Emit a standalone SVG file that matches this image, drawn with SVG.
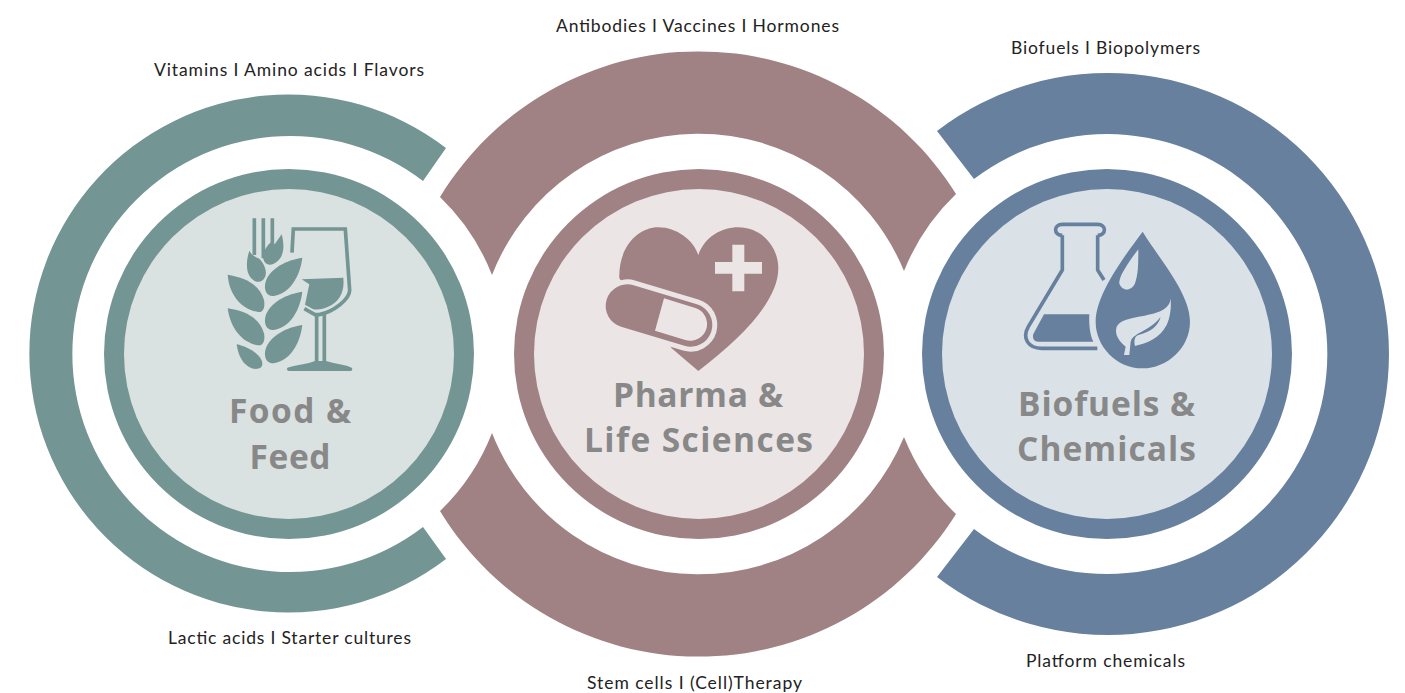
<svg xmlns="http://www.w3.org/2000/svg" width="1405" height="693" viewBox="0 0 1405 693">
<style>
.lbl{font-family:"Lato","Liberation Sans",sans-serif;font-size:17.5px;fill:#222}
.ttl{font-family:"Open Sans","Noto Sans",sans-serif;font-weight:700;font-size:33.500px;fill:#888;text-anchor:middle}
.t{fill:#739593}.tl{fill:#d9e2e1}
.m{fill:#a08184}.ml{fill:#ebe5e6}
.b{fill:#66809e}.bl{fill:#dae2e8}
</style>
<rect width="1405" height="693" fill="#fff"/>
<g id="food-feed">
<path class="t" d="M446,148A259,259 0 1 0 446,559L423,527A218,218 0 1 1 423,181Z"/>
<circle class="t" cx="289" cy="354" r="185"/>
<circle class="tl" cx="289" cy="354" r="165"/>
<g transform="translate(200 200) scale(.3333)">
<g fill="none" stroke="#739593" stroke-width="11">
<path d="M163,55V165M190,55V175M217,55V140"/>
<path d="M276,158L280,87H436L449,270C450,298 400,335 358,344L345,344L313,326"/>
<path d="M350,344V490M373,340V490"/>
</g>
<path class="t" d="M305,238L430,233C434,270 422,298 395,315C375,327 355,330 340,328L315,314L328,253Z"/>
<path class="t" d="M262,503C290,495 330,490 345,483L378,483C400,490 440,495 455,503C459,508 456,513 450,513H268C262,513 259,508 262,503Z"/>
<path class="t" d="M83,224C130,232 178,250 192,300C196,320 190,338 175,336C130,330 88,290 83,224Z"/>
<path class="t" d="M83,325C130,332 178,350 192,400C196,420 190,438 175,436C130,430 92,390 83,325Z"/>
<path class="t" d="M110,433C145,440 185,465 187,490C188,505 172,510 155,505C130,495 115,470 110,433Z"/>
<path class="t" d="M307,173C300,230 270,278 225,287C200,292 190,270 197,245C210,205 260,180 307,173Z"/>
<path class="t" d="M307,275C300,332 270,380 225,389C200,394 190,372 197,347C210,307 260,282 307,275Z"/>
<path class="t" d="M307,375C300,432 270,480 225,489C200,494 190,472 197,447C210,407 260,382 307,375Z"/>
<path class="t" d="M148,152C155,165 165,172 178,176C192,190 200,210 197,225C192,247 170,250 160,240C138,225 136,190 148,152Z"/>
<path class="t" d="M245,103C254,135 252,167 234,182C215,200 195,197 190,177C186,160 195,148 206,133L215,125L224,133Z"/>
</g>
<text class="ttl" x="290" y="423" textLength="122">Food &amp;</text>
<text class="ttl" x="290" y="469" textLength="81">Feed</text>
</g>
<g id="pharma-life-sciences">
<path class="m" d="M440,197A303,303 0 0 1 956,194A219,219 0 0 0 904,271A222,222 0 0 0 492,275A218,218 0 0 0 440,197Z"/>
<path class="m" d="M440,511A303,303 0 0 0 956,514A219,219 0 0 1 904,437A222,222 0 0 1 492,433A218,218 0 0 1 440,511Z"/>
<circle class="m" cx="699" cy="354" r="185"/>
<circle class="ml" cx="699" cy="354" r="165"/>
<g transform="translate(590 210) scale(.3333)">
<path class="m" d="M325,135C345,80 395,52 445,52C515,52 565,110 565,175C565,270 460,380 325,483L245,415L88,205C85,110 145,52 205,52C260,52 310,90 325,135Z"/>
<line x1="112" y1="288" x2="302" y2="345" stroke="#ebe5e6" stroke-width="160" stroke-linecap="round"/>
<line x1="112" y1="288" x2="302" y2="345" stroke="#a08184" stroke-width="130" stroke-linecap="round"/>
<path class="ml" d="M222,265L316,294A50,50 0 0 1 286,390L195,362Z"/>
<path class="ml" d="M427,104H463V156H516V191H463V244H427V191H375V156H427Z"/>
</g>
<text class="ttl" x="698" y="407" textLength="170">Pharma &amp;</text>
<text class="ttl" x="698.500" y="452" textLength="229">Life Sciences</text>
</g>
<g id="biofuels-chemicals">
<path class="b" d="M937,131A281,281 0 1 1 937,577L974,529A220,220 0 1 0 974,179Z"/>
<circle class="b" cx="1107" cy="354" r="185"/>
<circle class="bl" cx="1107" cy="354" r="165"/>
<g transform="translate(1010 210) scale(.3333)">
<g fill="none" stroke="#66809e" stroke-width="11">
<path d="M157,76C130,76 130,43 157,43H263C290,43 290,76 263,76"/>
<path d="M157,76V180L55,350C35,385 55,415 95,415H262"/>
<path d="M263,76V180L282,210"/>
</g>
<path class="b" d="M102,313H238C236,350 242,380 250,395H85C70,395 65,380 72,368Z"/>
<path class="bl" d="M398,65C450,150 540,250 540,335C540,415 470,475 398,475C320,475 257,410 257,335C257,250 350,130 398,65Z" stroke="#dae2e8" stroke-width="16"/>
<path class="b" d="M398,65C450,150 540,250 540,335C540,415 470,475 398,475C320,475 257,410 257,335C257,250 350,130 398,65Z"/>
<path class="bl" d="M385,118C385,160 385,190 375,220C365,245 335,245 328,220C325,200 360,150 385,118Z"/>
<path class="bl" d="M482,265C480,300 440,310 400,318C360,325 330,330 320,350C312,375 330,395 347,410L342,435H358L362,395C365,375 400,365 420,350C435,340 445,330 452,320C445,350 420,365 385,375C372,380 372,395 375,408C410,400 450,385 470,345C482,320 484,290 482,265Z"/>
</g>
<text class="ttl" x="1106.500" y="416" textLength="177">Biofuels &amp;</text>
<text class="ttl" x="1106.500" y="461" textLength="179">Chemicals</text>
</g>
<g id="labels">
<text class="lbl" x="154" y="76" textLength="270">Vitamins I Amino acids I Flavors</text>
<text class="lbl" x="556" y="32" textLength="283">Antibodies I Vaccines I Hormones</text>
<text class="lbl" x="1011" y="54" textLength="189">Biofuels I Biopolymers</text>
<text class="lbl" x="168" y="644" textLength="243">Lactic acids I Starter cultures</text>
<text class="lbl" x="587" y="689" textLength="215">Stem cells I (Cell)Therapy</text>
<text class="lbl" x="1026" y="667" textLength="159">Platform chemicals</text>
</g>
</svg>
